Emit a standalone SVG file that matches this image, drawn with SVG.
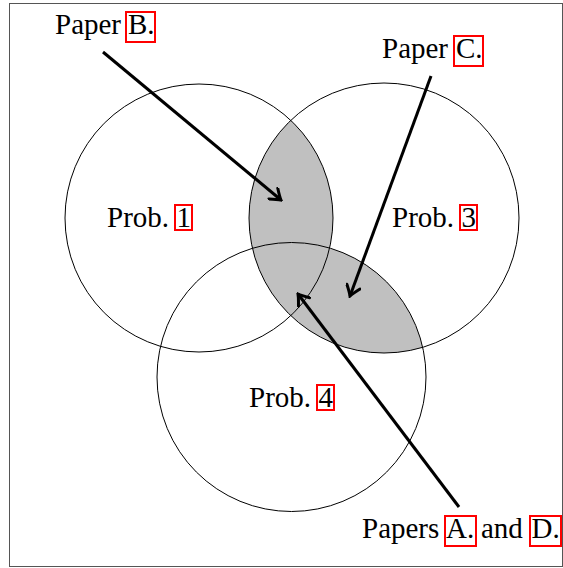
<svg xmlns="http://www.w3.org/2000/svg" width="563" height="568" viewBox="0 0 563 568">
<style>
.c{fill:none;stroke:#000;stroke-width:1}
.t{font-family:"Liberation Serif","Times New Roman",serif;font-size:29px;fill:#000}
.b{fill:none;stroke:#f00;stroke-width:2}
.a{fill:none;stroke:#000;stroke-width:3}
</style>
<defs>
<clipPath id="lb"><circle cx="199" cy="218" r="134"/><circle cx="291.5" cy="377" r="134.5"/></clipPath>
<marker id="ah" viewBox="-12 -8 14 16" markerWidth="14" markerHeight="16" refX="0" refY="0" orient="auto" markerUnits="userSpaceOnUse">
<path d="M-10,-7 Q-3,-1.5 0,0 Q-3,1.5 -10,7" fill="none" stroke="#000" stroke-width="3" stroke-linecap="round"/>
</marker>
</defs>
<rect x="9.5" y="3.5" width="553" height="563" fill="#fff" stroke="#555" stroke-width="1"/>
<circle cx="384" cy="218" r="135" fill="#c0c0c0" clip-path="url(#lb)"/>
<g id="prob1"><circle class="c" cx="199" cy="218" r="134"/><text class="t" x="107" y="227">Prob.</text><text class="t" x="176.5" y="227">1</text><rect class="b" x="175" y="205" width="17" height="25"/></g>
<g id="prob3"><circle class="c" cx="384" cy="218" r="135"/><text class="t" x="392" y="227">Prob.</text><text class="t" x="461.5" y="227">3</text><rect class="b" x="460" y="205" width="17" height="25"/></g>
<g id="prob4"><circle class="c" cx="291.5" cy="377" r="134.5"/><text class="t" x="249" y="407">Prob.</text><text class="t" x="318.5" y="407">4</text><rect class="b" x="317" y="385" width="17" height="25"/></g>
<g id="paperB"><text class="t" x="55" y="34">Paper</text><text class="t" x="128" y="34">B.</text><rect class="b" x="126" y="12" width="29" height="30"/></g>
<g id="paperC"><text class="t" x="382" y="58">Paper</text><text class="t" x="456" y="58">C.</text><rect class="b" x="454" y="36" width="29" height="30"/></g>
<g id="papersAD"><text class="t" x="362" y="538">Papers</text><text class="t" x="446" y="538">A.</text><text class="t" x="481" y="538">and</text><text class="t" x="531.5" y="538">D.</text><rect class="b" x="445" y="516" width="31" height="30"/><rect class="b" x="530" y="516" width="31" height="30"/></g>
<g id="connectors">
<line class="a" x1="103" y1="52" x2="281" y2="200" marker-end="url(#ah)"/>
<line class="a" x1="431" y1="76" x2="350" y2="296" marker-end="url(#ah)"/>
<line class="a" x1="459" y1="507" x2="298" y2="294" marker-end="url(#ah)"/>
</g>
</svg>
